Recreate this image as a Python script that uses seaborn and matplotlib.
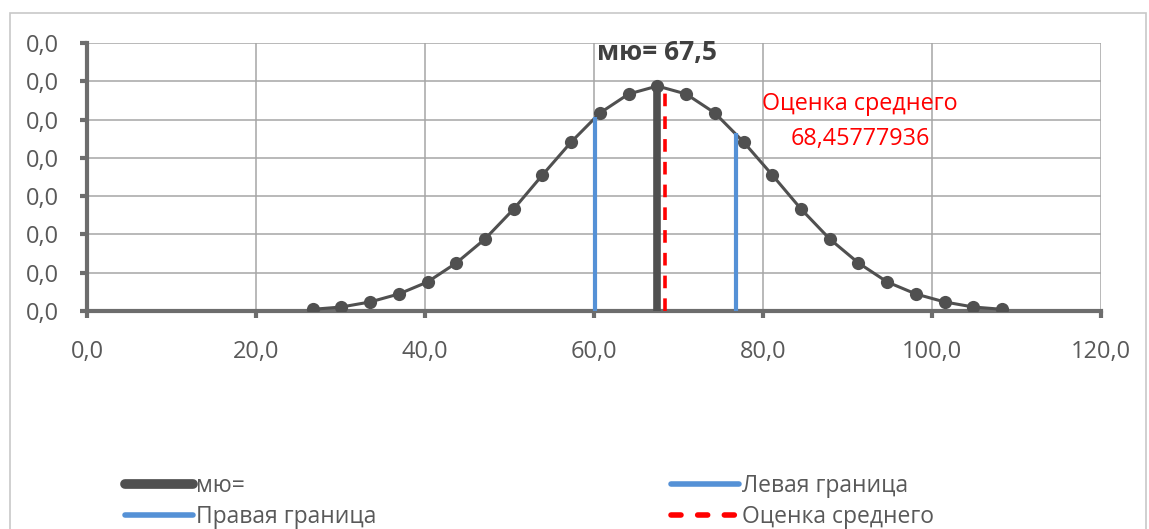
import numpy as np
import matplotlib
matplotlib.use('Agg')
import matplotlib.pyplot as plt
import seaborn as sns
from matplotlib.lines import Line2D
from matplotlib.patches import Rectangle
from matplotlib.ticker import FuncFormatter, MultipleLocator

# data
x_vals = [26.7, 30.1, 33.5, 36.9, 40.3, 43.7, 47.1, 50.5, 53.9, 57.3, 60.7, 64.1, 67.5,
          70.9, 74.3, 77.7, 81.1, 84.5, 87.9, 91.3, 94.7, 98.1, 101.5, 104.9, 108.3]
density = [0.00022, 0.00052, 0.00118, 0.00222, 0.00379, 0.00627, 0.0094, 0.01332, 0.01776,
           0.02207, 0.02586, 0.02834, 0.02938, 0.02834, 0.02586, 0.02207, 0.01776, 0.01332,
           0.0094, 0.00627, 0.00379, 0.00222, 0.00118, 0.00052, 0.00022]
mu = 67.5
mu_top = 0.0294
left_bound = 60.06
left_top = 0.0253
right_bound = 76.86
right_top = 0.0232
mean_est = 68.45777936
mean_top = 0.0293

sns.set_theme(style='white')
plt.rcParams['font.family'] = ['Open Sans', 'DejaVu Sans']

fig = plt.figure(figsize=(11.49, 5.29), dpi=100)
ax = fig.add_axes([87 / 1149, 1 - 311 / 529, (1101 - 87) / 1149, (311 - 43) / 529])

# outer chart border
fig.patches.append(Rectangle((10 / 1149, -0.1), (1146 - 10) / 1149, 1.1 - 13 / 529,
                             transform=fig.transFigure, fill=False,
                             edgecolor='#c8c8c8', linewidth=1.2))

dark = '#505050'
blue = '#5591d6'

sns.lineplot(x=x_vals, y=density, ax=ax, color=dark, linewidth=2.2,
             marker='o', markersize=9.5, markeredgewidth=0, zorder=3)

ax.vlines(left_bound, 0, left_top, color=blue, linewidth=3, zorder=4)
ax.vlines(right_bound, 0, right_top, color=blue, linewidth=3, zorder=4)
ax.vlines(mu, 0, mu_top, color=dark, linewidth=5.5, zorder=5, capstyle='round')
ax.vlines(mean_est, 0, mean_top, color='#ff0000', linewidth=2.6,
          linestyles=(0, (3.5, 2.8)), zorder=6)

ax.set_xlim(0, 120)
ax.set_ylim(0, 0.035)
ax.xaxis.set_major_locator(MultipleLocator(20))
ax.yaxis.set_major_locator(MultipleLocator(0.005))
fmt = FuncFormatter(lambda v, p: f'{v:.1f}'.replace('.', ','))
ax.xaxis.set_major_formatter(fmt)
ax.yaxis.set_major_formatter(fmt)

ax.grid(True, color='#a6a6a6', linewidth=1.1)
for s in ['top', 'right']:
    ax.spines[s].set_visible(False)
for s in ['left', 'bottom']:
    ax.spines[s].set_color('#6d6d6d')
    ax.spines[s].set_linewidth(3)
    ax.spines[s].set_zorder(2)
ax.tick_params(axis='both', length=5, width=3, color='#6d6d6d',
               labelsize=17, labelcolor='#595959', left=True, bottom=True)
ax.tick_params(axis='x', pad=16)
ax.tick_params(axis='y', pad=15)

ax.text(mu, 0.0338, 'мю= 67,5', ha='center', va='center', fontsize=19,
        fontweight='bold', color='#404040')
ax.text(91.5, 0.0270, 'Оценка среднего', ha='center', va='center', fontsize=16.8, color='#ff0000')
ax.text(91.5, 0.0225, '68,45777936', ha='center', va='center', fontsize=16.8, color='#ff0000')

h_mu = Line2D([], [], color=dark, linewidth=7, solid_capstyle='round')
h_l = Line2D([], [], color=blue, linewidth=4, solid_capstyle='round')
h_r = Line2D([], [], color=blue, linewidth=4, solid_capstyle='round')
h_m = Line2D([], [], color='#ff0000', linewidth=4, linestyle=(0, (1.8, 3)),
             dash_capstyle='round')

kw = dict(loc='upper left', frameon=False, fontsize=16.5, handlelength=2.95,
          handletextpad=0.15, labelspacing=0.28, borderpad=0, labelcolor='#595959')
fig.legend([h_mu, h_r], ['мю=', 'Правая граница'],
           bbox_to_anchor=(114 / 1149, 1 - 463 / 529), **kw)
fig.legend([h_l, h_m], ['Левая граница', 'Оценка среднего'],
           bbox_to_anchor=(660 / 1149, 1 - 463 / 529), **kw)

fig.savefig('out.png', dpi=100)
